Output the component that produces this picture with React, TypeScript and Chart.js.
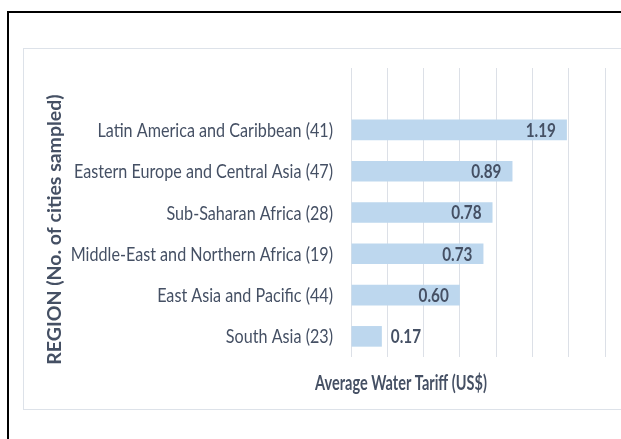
import React, { useEffect, useRef } from "react";
import { Chart, registerables } from "chart.js";

Chart.register(...registerables);

const categories = [
  "",
  "Latin America and Caribbean (41)",
  "Eastern Europe and Central Asia (47)",
  "Sub-Saharan Africa (28)",
  "Middle-East and Northern Africa (19)",
  "East Asia and Pacific (44)",
  "South Asia (23)",
];
const tariffs: (number | null)[] = [null, 1.19, 0.89, 0.78, 0.73, 0.6, 0.17];
const xTitle = "Average Water Tariff (US$)";
const yTitle = "REGION (No. of cities sampled)";
const xMin = 0;
const xMax = 1.4;
const xStep = 0.2;

const FONT = "Lato, 'Open Sans', sans-serif";
const TEXT = "#455064";

function drawText(ctx: CanvasRenderingContext2D, text: string, x: number, y: number, font: string, align: CanvasTextAlign, sx: number) {
  ctx.save();
  ctx.font = font;
  ctx.textAlign = align;
  ctx.textBaseline = "middle";
  ctx.translate(x, y);
  ctx.scale(sx, 1);
  ctx.fillText(text, 0, 0);
  ctx.restore();
}

const decorPlugin = {
  id: "decor",
  beforeDraw(chart: any) {
    const ctx = chart.ctx;
    ctx.save();
    ctx.fillStyle = "#ffffff";
    ctx.fillRect(0, 0, chart.width, chart.height);
    ctx.strokeStyle = "#000000";
    ctx.lineWidth = 2;
    ctx.strokeRect(8, 12, chart.width + 50, chart.height + 50);
    ctx.strokeStyle = "#DDE2E9";
    ctx.lineWidth = 1;
    ctx.strokeRect(23.5, 48.5, chart.width + 50, 361);
    ctx.restore();
  },
  afterDraw(chart: any) {
    const ctx = chart.ctx;
    const area = chart.chartArea;
    const yScale = chart.scales.y;
    ctx.save();
    ctx.fillStyle = TEXT;
    // category labels
    categories.forEach((c, i) => {
      if (!c) return;
      drawText(ctx, c, area.left - 18, yScale.getPixelForValue(i) + 1, `19px ${FONT}`, "right", 0.85);
    });
    // x title
    drawText(ctx, xTitle, area.left + 50, area.bottom + 27, `bold 20px ${FONT}`, "center", 0.725);
    // y title
    ctx.save();
    ctx.font = `bold 19.5px ${FONT}`;
    ctx.textAlign = "center";
    ctx.textBaseline = "middle";
    ctx.translate(55, (area.top + area.bottom) / 2 + 17);
    ctx.rotate(-Math.PI / 2);
    ctx.fillText(yTitle, 0, 0);
    ctx.restore();
    // data labels
    const meta = chart.getDatasetMeta(0);
    const lblFont = `bold 18px ${FONT}`;
    const lsx = 0.85;
    meta.data.forEach((bar: any, i: number) => {
      const v = tariffs[i];
      if (v === null || v === undefined) return;
      const txt = v.toFixed(2);
      ctx.font = lblFont;
      const w = ctx.measureText(txt).width * lsx;
      const barW = bar.x - bar.base;
      if (barW > w + 22) {
        drawText(ctx, txt, bar.x - 11, bar.y + 1, lblFont, "right", lsx);
      } else {
        drawText(ctx, txt, bar.x + 9, bar.y + 1, lblFont, "left", lsx);
      }
    });
    ctx.restore();
  },
};

export default function App() {
  const ref = useRef<HTMLCanvasElement | null>(null);
  useEffect(() => {
    if (!ref.current) return;
    const chart = new Chart(ref.current, {
      type: "bar",
      data: {
        labels: categories,
        datasets: [
          {
            data: tariffs as any,
            backgroundColor: "#BDD7EE",
            borderWidth: 0,
            categoryPercentage: 1,
            barPercentage: 0.5,
          },
        ],
      },
      options: {
        indexAxis: "y",
        responsive: false,
        animation: false,
        layout: { padding: { left: 0, top: 68, right: 16, bottom: 82 } },
        plugins: { legend: { display: false }, tooltip: { enabled: false } },
        scales: {
          x: {
            min: xMin,
            max: xMax,
            ticks: { display: false, stepSize: xStep },
            grid: { color: "#DCE0E7", drawTicks: false, lineWidth: 1 },
            border: { display: false },
          },
          y: {
            afterFit(scale: any) {
              scale.width = 351;
            },
            grid: { display: false, drawTicks: false },
            border: { display: false },
            ticks: { display: false },
          },
        },
      },
      plugins: [decorPlugin],
    } as any);
    return () => chart.destroy();
  }, []);
  return (
    <div style={{ position: "fixed", left: 0, top: 0, width: 621, height: 439, overflow: "hidden", background: "#fff" }}>
      <canvas ref={ref} width={621} height={439} style={{ display: "block" }} />
    </div>
  );
}
